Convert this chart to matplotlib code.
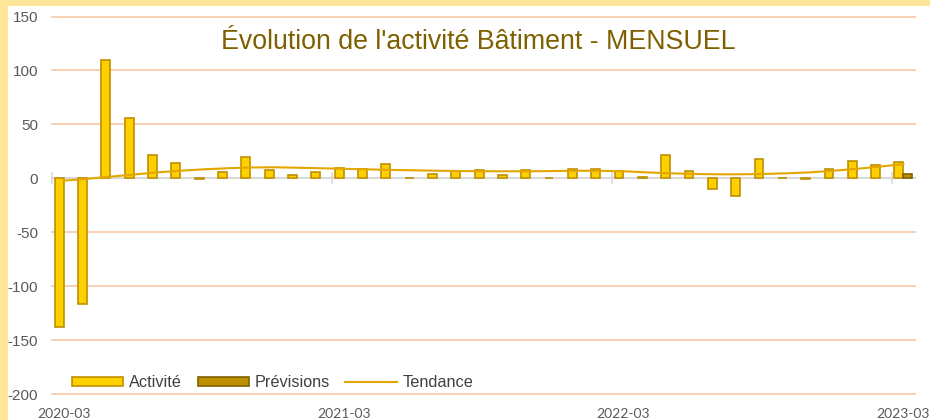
import matplotlib
matplotlib.use("Agg")
import matplotlib.pyplot as plt
from matplotlib.patches import Patch, Rectangle
from matplotlib.lines import Line2D
import numpy as np

plt.rcParams["axes.unicode_minus"] = False

months = ["2020-03", "2020-04", "2020-05", "2020-06", "2020-07", "2020-08", "2020-09",
          "2020-10", "2020-11", "2020-12", "2021-01", "2021-02", "2021-03", "2021-04",
          "2021-05", "2021-06", "2021-07", "2021-08", "2021-09", "2021-10", "2021-11",
          "2021-12", "2022-01", "2022-02", "2022-03", "2022-04", "2022-05", "2022-06",
          "2022-07", "2022-08", "2022-09", "2022-10", "2022-11", "2022-12", "2023-01",
          "2023-02", "2023-03"]
activite = [-138, -117, 110, 56, 22, 14, -1, 6, 20, 8, 3, 6, 10, 9, 13, 0.5, 4, 7, 8, 3,
            8, 0.5, 9, 9, 7, 1, 22, 7, -10, -16, 18, 0.5, -0.5, 9, 16, 12, 15]
previsions = [np.nan] * 36 + [4]
tendance = [-2.2, -0.5, 1.5, 3.5, 5.5, 7.0, 8.3, 9.3, 10.0, 10.2, 9.8, 9.3, 8.8, 8.3,
            7.8, 7.4, 7.0, 6.7, 6.5, 6.5, 6.5, 6.7, 7.0, 6.9, 6.5, 5.5, 4.6, 4.0, 3.7,
            3.7, 4.0, 4.6, 5.5, 7.0, 8.8, 10.8, 13.2]
tick_labels = ["2020-03", "2021-03", "2022-03", "2023-03"]

title = "Évolution de l'activité Bâtiment - MENSUEL"

W, H = 930, 420
fig = plt.figure(figsize=(W / 100, H / 100), dpi=100, facecolor="#FFE699")
bg = fig.add_axes([8 / W, 0, 1 - 8 / W, 1 - 6 / H], zorder=-10)
bg.set_axis_off()
bg.add_patch(Rectangle((0, 0), 1, 1, transform=bg.transAxes, facecolor="white",
                       edgecolor="none"))

ax = fig.add_axes([52 / W, 1 - 394 / H, 863 / W, (394 - 16.5) / H])
ax.set_facecolor("none")

x = np.arange(len(months))
bw = 0.38
ax.bar(x - bw / 2, activite, width=bw, color="#FFD000", edgecolor="#BF9000", linewidth=1.2,
       zorder=3, label="Activité")
ax.bar(x + bw / 2, previsions, width=bw, color="#BF9000", edgecolor="#7F6000", linewidth=1.2,
       zorder=3, label="Prévisions")
ax.plot(x, tendance, color="#E3A600", linewidth=1.5, zorder=4, label="Tendance")

ax.set_xlim(-0.5, len(months) - 0.5)
ax.set_ylim(-200, 150)
ax.set_yticks(np.arange(-200, 151, 50))
for v in np.arange(-200, 151, 50):
    if v != 0:
        ax.axhline(v, color="#F8CBAD", linewidth=1.3, zorder=1, clip_on=False)

for s in ["top", "right", "left"]:
    ax.spines[s].set_visible(False)
ax.spines["bottom"].set_position(("data", 0))
ax.spines["bottom"].set_color("#D9D9D9")
ax.spines["bottom"].set_linewidth(1.5)
ax.spines["bottom"].set_zorder(2)
ax.set_xticks(np.arange(-0.5, len(months), 12))
ax.tick_params(axis="x", direction="inout", length=9, width=1.2, color="#D9D9D9",
               labelbottom=False)
ax.tick_params(axis="y", length=0, labelsize=11, labelcolor="#595959", pad=10)
for lab in ax.get_yticklabels():
    lab.set_fontfamily("Liberation Sans")

sec = ax.secondary_xaxis("bottom")
sec.spines["bottom"].set_visible(False)
sec.set_xticks([months.index(m) for m in tick_labels])
sec.set_xticklabels(tick_labels, fontfamily="Lato", fontsize=10, color="#595959")
sec.tick_params(length=0, pad=10)

fig.text(478 / W, 1 - 42 / H, title, ha="center", va="center", fontsize=19.3,
         color="#7F6000", fontfamily="Liberation Sans")

handles = [Patch(facecolor="#FFD000", edgecolor="#BF9000", linewidth=1.2),
           Patch(facecolor="#BF9000", edgecolor="#7F6000", linewidth=1.2),
           Line2D([0], [0], color="#E3A600", linewidth=1.5)]
leg = ax.legend(handles, ["Activité", "Prévisions", "Tendance"], ncol=3, frameon=False,
                loc="center left", bbox_to_anchor=(0.0, 0.03), handlelength=3.15,
                handleheight=0.5, handletextpad=0.36, columnspacing=0.96,
                borderpad=0, prop={"family": "Liberation Sans", "size": 11.7})
for t in leg.get_texts():
    t.set_color("#404040")

fig.canvas.draw()
bb = leg.get_window_extent()
dx = (72 - bb.x0) / 863
leg.set_bbox_to_anchor((dx, 0.03), transform=ax.transAxes)

fig.savefig("out.png", dpi=100, facecolor=fig.get_facecolor())
